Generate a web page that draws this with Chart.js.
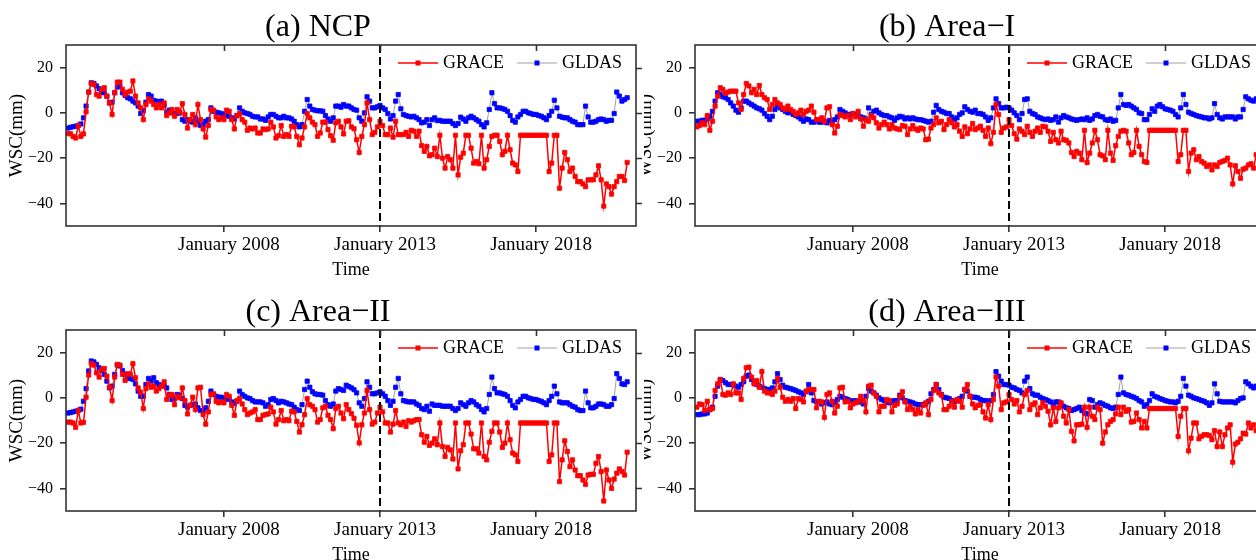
<!DOCTYPE html>
<html>
<head>
<meta charset="utf-8">
<script src="https://cdn.jsdelivr.net/npm/chart.js@4.4.1/dist/chart.umd.min.js"></script>
<style>
  html, body { margin: 0; padding: 0; background: #fff; }
  body { width: 1256px; height: 560px; overflow: hidden; position: relative; }
  .panel { position: absolute; background: #fff; }
  .panel canvas { display: block; }
  .front { z-index: 2; }
  .back { z-index: 1; }
</style>
</head>
<body>
<div class="panel front" style="left:0;top:0"><canvas id="cA" width="644" height="280"></canvas></div>
<div class="panel back" style="left:629px;top:0"><canvas id="cB" width="644" height="280"></canvas></div>
<div class="panel front" style="left:0;top:285px"><canvas id="cC" width="644" height="280"></canvas></div>
<div class="panel back" style="left:629px;top:285px"><canvas id="cD" width="644" height="280"></canvas></div>
<script>
// monthly series, Jan 2003 .. Dec 2020
const startYear = 2003;
const splitYear = 2013;
const xTickYears = [2008, 2013, 2018];
const yTickValues = [-40, -20, 0, 20];
const panelTitles = ['(a) NCP', '(b) Area\u2212I', '(c) Area\u2212II', '(d) Area\u2212III'];

const graceNCP = [-9.2,-9.2,-10.4,-11.1,-5.6,-10.4,-9.3,0.5,9.2,13.0,
12.6,8.1,7.4,10.4,11.1,7.4,4.4,-0.7,8.9,13.6,
13.6,10.4,8.1,9.2,9.6,14.1,7.4,4.4,2.2,-3.0,
3.7,6.2,5.2,3.7,2.2,3.7,2.2,4.4,-1.2,0,
1.5,-1.5,1.5,0.3,4.1,-0.7,-6.7,-3.0,-0.7,-5.2,
3.7,-3.0,-7.1,-10.7,-5.6,1.5,1.2,-1.8,-3.0,-2.2,
-3.0,1.2,0.7,-3.0,-7.1,-1.2,-0.3,-3.0,-4.1,-7.7,
-6.7,-7.1,-6.7,-8.9,-8.9,-7.1,-7.4,-7.1,-4.1,-6.2,
-11.1,-10.1,-5.6,-10.4,-9.6,-10.4,-5.9,-6.2,-10.4,-14.1,
-11.1,-6.2,-0.3,-2.2,-4.1,-5.2,-10.4,-8.9,-4.1,-4.1,
-7.4,-10.1,-12.1,-4.4,-3.7,-6.2,-9.3,-3.7,-3.5,-6.2,
-7.0,-11.9,-17.5,-10.4,-5.2,4.4,-3.0,-9.6,-8.6,-6.2,
-3.7,-5.6,-9.6,-9.6,-6.7,-10.7,-3.7,-9.6,-9.6,-9.6,
-8.6,-10.4,-7.7,-8.1,-10.4,-8.1,-14.5,-17.0,-14.8,-19.0,
-18.5,-15.6,-19.3,-9.9,-20.0,-24.4,-19.3,-20.7,-24.4,-9.9,
-27.4,-19.6,-17.8,-9.9,-9.9,-15.6,-22.2,-21.5,-22.5,-9.9,
-24.4,-20.7,-14.8,-10.4,-9.9,-9.9,-12.6,-18.5,-17.0,-9.9,
-16.3,-22.2,-23.0,-25.9,-9.9,-9.9,-9.9,-9.9,-9.9,-9.9,
-9.9,-9.9,-9.9,-9.9,-9.9,-25.9,-22.2,-9.9,-9.9,-33.3,
-24.4,-17.5,-20.7,-25.9,-24.4,-28.1,-30.4,-30.4,-31.4,-32.6,
-29.6,-29.6,-29.6,-27.4,-23.4,-29.6,-41.2,-31.4,-32.6,-35.9,
-32.6,-30.4,-28.1,-28.1,-29.9,-21.9];

const gldasNCP = [-6.7,-6.4,-6.1,-5.9,-5.5,-4.9,-2.2,3.0,9.2,13.3,
13.0,11.9,10.7,9.2,8.9,7.4,4.4,4.7,8.9,11.4,
11.9,8.9,7.7,6.7,6.2,5.2,4.4,3.0,-0.3,1.0,
4.7,8.1,7.4,5.5,5.2,4.7,5.2,3.3,0.3,1.2,
0,-0.3,-0.3,0,-3.0,-3.7,-3.0,-3.7,-4.1,-2.2,
-3.7,-5.6,-5.2,-3.7,-3.0,2.2,0.7,0.3,0,-0.3,
-0.7,-1.2,-1.5,-2.2,-2.7,-1.2,2.2,0.7,0,-0.3,
-0.7,-1.5,-1.8,-1.8,-2.7,-2.7,-3.3,-1.8,-0.7,-0.7,
-1.5,-2.2,-2.2,-1.5,-2.2,-2.2,-2.7,-3.7,-5.2,-6.2,
-5.2,0.7,5.9,3.0,1.5,1.2,0.9,0.9,0.7,-1.2,
-2.7,-3.7,-2.2,3.0,3.0,2.5,3.7,3.0,3.0,2.2,
1.5,1.2,-2.2,-3.7,0,7.1,5.2,2.2,2.2,2.7,
3.3,2.2,1.5,-0.3,-2.7,-1.2,5.2,8.1,1.8,-0.7,
-1.2,-1.5,-1.8,-1.5,-2.2,-3.0,-4.4,-4.1,-3.0,-5.6,
-3.0,-2.2,-3.4,-3.3,-3.7,-3.7,-3.7,-3.7,-4.7,-5.6,
-4.7,-1.9,-2.7,-3.7,-2.2,-1.5,-2.2,-3.0,-3.7,-5.2,
-6.2,-4.4,1.5,8.9,4.1,2.2,2.2,1.9,1.5,0.7,
-1.2,-3.3,-4.1,-1.8,-0.7,0.7,0.7,0,-0.3,-0.7,
-0.7,-1.2,-1.5,-2.2,-3.0,-1.2,0.7,5.6,2.2,-1.5,
-1.9,-2.2,-2.2,-3.0,-3.7,-4.1,-5.2,-5.2,-5.2,3.0,
-1.8,-4.1,-4.1,-3.7,-3.0,-2.7,-3.0,-3.7,-3.3,-3.3,
-0.3,9.2,7.4,5.2,5.9,6.7];

const graceArea1 = [-6.2,-5.6,-4.4,-5.2,-1.2,-7.7,-3.7,3.0,7.4,11.1,
10.4,8.6,9.2,9.6,9.6,9.6,4.4,1.5,8.1,13.0,
11.9,8.9,10.4,8.1,12.1,8.1,6.7,5.9,1.5,3.7,
5.9,4.4,3.7,2.2,1.5,3.0,1.5,0.7,-0.7,0,
1.2,-0.7,0.7,1.2,3.0,0.3,-3.0,-3.0,-2.2,-3.7,
2.2,2.7,-5.2,-8.9,-5.9,-0.7,-1.2,-1.8,-1.2,-3.0,
-0.3,-1.8,0.7,-2.7,-5.9,-3.0,-3.7,-1.2,-2.2,-4.4,
-6.7,-5.2,-4.1,-5.2,-7.1,-5.2,-6.7,-7.1,-7.4,-5.6,
-5.9,-9.6,-7.1,-5.6,-7.1,-7.7,-6.7,-7.1,-11.9,-11.6,
-6.7,-5.2,-2.2,-4.4,-3.7,-7.4,-5.2,-3.0,-4.4,-6.2,
-5.2,-8.1,-10.4,-6.2,-9.2,-7.1,-4.7,-7.4,-6.7,-5.9,
-7.7,-10.4,-6.7,-13.6,-8.6,3.7,-0.7,-8.6,-6.7,-6.2,
-3.0,-5.6,-9.2,-11.6,-7.1,-8.1,-9.6,-5.9,-8.6,-10.4,
-8.1,-6.7,-8.6,-5.9,-6.2,-8.1,-12.6,-8.6,-11.9,-13.3,
-8.1,-11.9,-12.1,-13.3,-17.5,-19.3,-17.0,-17.8,-20.7,-7.7,
-21.9,-17.8,-13.3,-7.7,-11.9,-18.5,-19.0,-20.7,-7.7,-17.8,
-21.0,-14.5,-10.4,-8.1,-7.7,-8.1,-13.3,-18.5,-17.5,-7.7,
-14.8,-18.5,-21.5,-21.9,-7.7,-7.7,-7.7,-7.7,-7.7,-7.7,
-7.7,-7.7,-7.7,-7.7,-7.7,-21.5,-18.5,-7.7,-7.7,-25.9,
-17.8,-16.3,-20.7,-19.3,-21.5,-22.2,-23.7,-23.0,-25.2,-23.0,
-23.7,-21.9,-21.5,-21.0,-20.0,-23.0,-31.4,-23.4,-25.9,-28.9,
-24.9,-24.4,-23.0,-22.5,-24.4,-18.5];

const gldasArea1 = [-3.7,-3.7,-3.3,-3.3,-2.7,-1.5,0.7,5.2,8.9,8.1,
7.1,6.7,5.9,4.4,3.0,1.2,0.3,2.2,5.2,5.2,
4.4,3.7,3.0,2.2,1.8,1.2,-0.3,-1.5,-3.0,-1.5,
1.5,3.3,2.2,1.5,0.7,0,0.3,-0.7,-1.2,-1.8,
-2.7,-3.7,-2.7,-3.0,-4.1,-4.1,-3.4,-4.1,-4.1,-3.7,
-4.4,-3.3,-4.1,-3.0,-1.8,1.5,0.7,0,-0.7,-0.7,
-0.3,-0.7,-1.2,-1.8,-2.2,-2.7,2.2,-0.7,0.7,1.2,
0,-0.7,-1.2,-1.2,-1.8,-2.2,-3.3,-2.2,-1.5,-1.8,
-2.7,-2.2,-2.7,-2.2,-2.7,-3.0,-3.0,-3.3,-3.7,-4.1,
-3.7,0.3,3.3,1.5,0.7,0.3,-0.3,-0.3,-1.8,-3.0,
-2.2,-0.7,0,2.7,1.5,0.7,0.3,1.2,-0.3,-0.3,
-0.7,-1.8,-3.3,-2.2,2.2,6.2,4.1,2.2,2.2,2.5,
2.2,1.2,0,-1.2,-3.0,-0.3,5.9,6.2,0.7,-0.3,
-0.7,-1.8,-2.2,-2.7,-3.0,-2.7,-3.3,-3.0,-1.8,-4.1,
-2.2,-1.2,-1.8,-2.2,-2.7,-3.0,-3.3,-3.0,-2.7,-3.0,
-2.2,-3.3,-2.7,-1.2,-0.7,-1.5,-1.8,-3.0,-3.3,-2.7,
-3.7,-3.3,2.2,8.1,3.7,3.3,3.7,3.0,2.2,1.5,
0,-0.3,-3.0,-3.0,-0.7,1.8,0.7,3.0,3.7,2.7,
1.8,1.5,1.2,0.7,-0.7,-1.8,2.2,8.1,3.7,0.3,
-0.3,-0.7,-1.2,-1.5,-1.8,-2.2,-2.2,-2.7,-2.2,4.1,
-0.7,-2.2,-2.7,-1.8,-1.8,-1.8,-1.8,-2.7,-1.8,-1.8,
1.5,7.1,6.2,5.6,5.2,6.2];

const graceArea2 = [-10.7,-10.7,-11.1,-13.0,-5.6,-11.1,-10.8,0.3,10.1,15.1,
14.5,11.1,9.2,12.6,13.0,9.6,4.7,-1.2,9.2,14.8,
14.5,10.4,7.7,10.7,10.4,15.1,8.9,4.4,2.5,-4.7,
4.1,6.2,4.7,5.2,3.0,4.1,5.2,7.1,-0.7,1.2,
1.5,-3.0,0.7,0,4.4,-1.2,-7.1,-3.3,0.3,-5.2,
4.4,4.7,-7.4,-11.6,-6.2,1.5,1.8,-1.5,-2.2,-1.8,
-2.2,1.5,0.7,-3.3,-7.7,-1.2,-0.3,-2.7,-5.2,-7.4,
-6.7,-6.2,-5.2,-9.6,-9.6,-7.7,-7.4,-7.1,-4.1,-6.2,
-11.6,-9.6,-5.6,-10.1,-9.6,-10.1,-5.9,-6.2,-10.4,-15.1,
-11.9,-7.4,-0.3,-3.0,-3.7,-5.2,-10.7,-9.6,-4.4,-3.7,
-7.7,-9.6,-13.6,-4.7,-3.7,-6.7,-9.2,-3.0,-5.2,-7.0,
-9.0,-12.1,-19.9,-11.9,-6.7,3.3,-5.2,-11.6,-10.7,-6.7,
-4.1,-6.2,-11.1,-11.1,-15.1,-11.6,-5.6,-11.1,-11.9,-10.7,
-12.6,-10.1,-10.7,-10.1,-9.6,-9.6,-16.3,-19.6,-17.0,-21.0,
-20.0,-18.1,-20.7,-11.1,-21.5,-25.9,-21.9,-23.0,-27.0,-11.1,
-31.4,-23.4,-20.7,-11.1,-11.1,-16.0,-22.5,-22.5,-24.4,-11.1,
-25.9,-27.4,-19.6,-14.8,-11.1,-11.1,-15.1,-21.9,-20.0,-11.1,
-18.5,-24.4,-25.2,-28.1,-11.1,-11.1,-11.1,-11.1,-11.1,-11.1,
-11.1,-11.1,-11.1,-11.1,-11.1,-28.1,-25.2,-11.1,-11.1,-37.0,
-27.4,-19.0,-23.7,-30.4,-27.4,-31.9,-34.4,-34.4,-36.3,-38.2,
-34.1,-33.8,-33.8,-28.9,-25.9,-32.6,-45.6,-31.9,-36.3,-40.0,
-35.9,-33.3,-31.4,-32.6,-34.1,-24.0];

const gldasArea2 = [-6.7,-6.5,-6.2,-5.9,-5.5,-5.0,-1.5,4.1,11.9,16.3,
15.9,14.8,13.3,12.1,10.4,7.4,4.4,5.2,10.4,14.5,
14.1,12.1,10.4,8.6,8.6,8.1,6.2,3.0,0.7,0.7,
5.9,8.6,7.4,8.9,6.7,5.9,5.5,5.2,4.4,1.5,
-0.7,-0.3,1.5,1.2,-0.3,-3.3,-4.1,-3.3,-3.0,-2.7,
-4.4,-5.6,-5.9,-4.4,-1.5,3.0,1.5,0.7,0.3,0.3,
-0.3,-0.7,-0.3,-1.8,-2.4,-1.5,3.0,1.5,0.7,0,
-0.3,-1.2,-1.8,-1.8,-1.8,-2.2,-3.7,-3.0,-0.7,-0.3,
-1.2,-2.2,-1.5,-1.8,-2.2,-2.7,-3.0,-4.1,-5.2,-5.6,
-3.0,3.7,7.4,4.7,2.7,1.8,1.5,1.5,1.2,-1.2,
-3.0,-3.7,-2.7,3.0,4.1,3.7,3.3,5.6,5.0,4.4,
3.6,2.2,-2.2,-3.7,-0.3,7.1,4.7,1.8,1.8,2.2,
2.7,1.8,0.7,-1.2,-3.3,-1.5,4.7,8.6,1.8,-1.2,
-1.5,-1.8,-1.8,-1.8,-2.7,-3.3,-4.7,-5.2,-3.7,-5.9,
-2.7,-3.3,-3.3,-3.3,-3.7,-3.7,-3.7,-3.7,-4.7,-5.6,
-4.7,-2.2,-3.0,-3.7,-2.2,-1.2,-1.8,-3.0,-3.7,-5.2,
-6.2,-4.7,1.5,9.2,4.1,2.2,2.2,1.8,1.5,0.7,
-1.2,-3.3,-4.4,-1.8,-0.7,0.7,0.7,0,-0.3,-0.7,
-0.7,-1.2,-1.5,-2.2,-3.0,-1.2,0.7,5.2,1.8,-1.8,
-2.2,-2.2,-2.2,-3.0,-3.7,-4.1,-5.2,-5.6,-5.6,3.0,
-2.2,-4.4,-4.4,-3.7,-2.7,-2.7,-3.0,-3.7,-3.7,-3.0,
-0.3,10.7,8.6,6.2,5.9,7.1];

const graceArea3 = [-4.1,-2.7,-3.0,-5.6,-1.5,-5.2,-4.7,3.3,6.2,8.1,
1.5,1.2,2.2,1.5,6.2,2.2,2.2,-0.7,8.6,13.3,
13.6,9.2,6.2,7.7,4.7,11.6,3.0,2.2,2.2,1.5,
3.0,8.6,4.7,0.3,-1.5,-0.7,-1.5,-0.3,-4.7,-0.3,
-0.7,-1.8,3.0,3.7,3.7,3.7,-4.4,-1.5,-1.8,-8.6,
1.5,2.2,-1.5,-6.7,-3.7,4.4,4.7,-1.8,-1.5,-4.4,
-2.7,-2.2,-1.5,0.7,-1.2,-6.2,5.2,5.6,2.2,0.7,
-6.2,-3.7,-3.7,-0.7,-1.2,-6.2,-3.3,-2.7,0.7,2.7,
-1.8,-5.2,-3.7,-5.2,-7.1,-5.2,-6.7,-3.3,-2.2,-7.4,
-0.7,3.3,5.9,2.2,1.2,-5.2,-5.2,-3.7,-1.5,-4.1,
-0.7,-1.5,-4.1,3.7,5.9,0.7,-2.7,-4.4,-3.3,-3.0,
-6.2,-8.9,-3.0,-9.6,-0.7,9.2,5.2,-5.2,-2.2,-1.8,
1.5,-0.7,-2.7,-1.2,-6.2,-3.7,1.5,3.3,-5.2,-3.0,
-2.2,-7.4,-4.4,-2.2,-3.7,-5.9,-11.9,-4.4,-10.4,-4.4,
-2.2,-8.1,-11.1,-5.2,-14.8,-19.0,-11.9,-11.9,-11.6,-4.1,
-13.0,-4.1,-8.1,-9.6,-4.1,-5.2,-20.0,-15.1,-11.9,-10.4,
-9.6,-7.1,-4.1,-7.4,-4.1,-5.9,-5.2,-10.7,-10.4,-6.7,
-9.6,-13.3,-10.4,-13.3,-4.7,-4.7,-4.7,-4.7,-4.7,-4.7,
-4.7,-4.7,-4.7,-4.7,-4.7,-17.0,-8.1,-4.7,-4.7,-23.4,
-17.8,-11.1,-11.1,-18.1,-17.0,-16.3,-16.3,-16.6,-18.5,-14.5,
-21.5,-15.1,-21.5,-16.3,-13.3,-11.9,-28.4,-20.4,-19.6,-18.1,
-15.6,-16.0,-11.1,-13.3,-11.9,-14.5];

const gldasArea3 = [-7.4,-7.4,-7.1,-7.1,-6.7,-5.2,-4.1,0.7,5.2,8.1,
7.7,6.7,5.9,5.9,5.9,5.2,4.7,5.9,7.1,9.6,
10.1,8.1,6.7,5.9,5.2,4.7,4.1,3.7,3.7,4.4,
7.1,10.7,8.1,5.6,4.7,4.4,4.1,3.7,3.3,2.7,
2.2,1.5,2.7,5.9,2.2,-1.2,-1.8,-1.8,-2.7,-2.2,
-1.8,-2.7,-3.0,-1.8,-0.7,0.7,0.3,-0.3,-0.7,-1.2,
-1.5,-1.2,-1.8,-1.8,-2.7,0.7,4.1,3.0,2.2,1.2,
0,-0.7,-1.2,-1.8,-2.2,-1.5,-1.2,-1.2,1.2,0,
-1.2,-1.5,-1.8,-2.2,-2.7,-3.0,-3.0,-3.0,-2.7,-1.5,
1.8,3.7,5.9,3.7,1.5,0.3,0,-0.3,-1.2,-1.8,
-1.2,-0.3,0.7,3.7,3.0,0.7,0.3,0.3,0,-0.7,
-1.2,-1.2,-1.5,-1.2,1.5,11.6,9.6,7.4,5.9,5.9,
5.6,4.7,4.4,3.7,3.3,2.2,7.4,9.2,4.1,1.8,
1.2,1.2,0.3,-0.3,-0.7,-1.2,-1.8,-3.0,-1.8,-1.8,
-3.0,-3.7,-4.4,-4.7,-5.6,-5.2,-4.7,-4.1,-5.6,-6.7,
-7.1,-0.7,-1.2,-4.1,-3.0,-2.2,-2.7,-3.3,-3.7,-4.4,
-4.7,-4.1,1.5,9.2,2.2,1.5,1.2,0.7,0.3,-0.3,
-1.2,-1.8,-3.7,-3.0,-1.2,1.8,0.7,0.3,-0.3,-0.7,
-1.2,-1.5,-1.8,-1.8,-2.2,-1.5,0.7,8.6,5.2,1.2,
0.7,0,-0.3,-0.7,-1.2,-1.5,-2.2,-3.3,-2.2,6.2,
1.8,-1.5,-1.8,-1.8,-1.8,-1.8,-1.8,-2.2,-1.2,-0.3,
0,7.1,6.2,5.2,4.4,5.2];

const SERIF = '"Liberation Serif", "Times New Roman", serif';
Chart.defaults.font.family = SERIF;
Chart.defaults.color = '#000';

const toPoints = vals => vals.map((v, i) => ({ x: startYear + i / 12, y: v }));
const fmtMinus = v => (v < 0 ? '\u2212' + Math.abs(v) : String(v));

// frame, mirrored ticks, dashed line at Jan 2013
const framePlugin = {
  id: 'frame',
  afterDatasetsDraw(chart) {
    const { ctx, chartArea: a, scales: { x, y } } = chart;
    ctx.save();
    const xs = x.getPixelForValue(splitYear);
    ctx.strokeStyle = '#000';
    ctx.lineWidth = 2;
    ctx.setLineDash([8, 4]);
    ctx.beginPath(); ctx.moveTo(xs, a.top); ctx.lineTo(xs, a.bottom); ctx.stroke();
    ctx.setLineDash([]);
    ctx.strokeStyle = '#333';
    ctx.lineWidth = 1.6;
    ctx.strokeRect(a.left, a.top, a.right - a.left, a.bottom - a.top);
    ctx.beginPath();
    yTickValues.forEach(v => {
      const py = Math.round(y.getPixelForValue(v)) + 0.5;
      ctx.moveTo(a.right, py); ctx.lineTo(a.right + 6, py);
    });
    xTickYears.forEach(v => {
      const px = Math.round(x.getPixelForValue(v)) + 0.5;
      ctx.moveTo(px, a.top); ctx.lineTo(px, a.top + 6);
    });
    ctx.stroke();
    ctx.restore();
  }
};

// legend inside the top right corner
const legendPlugin = {
  id: 'insideLegend',
  afterDraw(chart) {
    const { ctx, chartArea: a } = chart;
    ctx.save();
    ctx.font = '18px ' + SERIF;
    ctx.textBaseline = 'middle';
    ctx.textAlign = 'left';
    const cy = a.top + 18, lineW = 40, gap = 5, itemGap = 13;
    const items = chart.data.datasets.map(ds => ({
      label: ds.label, line: ds.borderColor, lw: ds.borderWidth,
      pt: ds.pointBackgroundColor, w: ctx.measureText(ds.label).width
    }));
    const total = items.reduce((s, it) => s + lineW + gap + it.w, 0) + itemGap * (items.length - 1);
    let x = a.right - 14 - total;
    items.forEach(it => {
      ctx.strokeStyle = it.line;
      ctx.lineWidth = it.lw;
      ctx.beginPath(); ctx.moveTo(x, cy); ctx.lineTo(x + lineW, cy); ctx.stroke();
      ctx.fillStyle = it.pt;
      ctx.fillRect(x + lineW / 2 - 2.5, cy - 2.5, 5, 5);
      ctx.fillStyle = '#000';
      ctx.fillText(it.label, x + lineW + gap, cy);
      x += lineW + gap + it.w + itemGap;
    });
    ctx.restore();
  }
};

function makePanel(id, title, grace, gldas) {
  const axisGrid = { display: true, drawOnChartArea: false, drawTicks: true, tickLength: 6, color: '#333', lineWidth: 1.6 };
  return new Chart(document.getElementById(id), {
    type: 'line',
    data: {
      datasets: [
        {
          label: 'GRACE', data: toPoints(grace),
          borderColor: '#ff0000', borderWidth: 1.5,
          pointStyle: 'rect', pointRadius: 3, pointBorderWidth: 0.8,
          pointBackgroundColor: '#ff0000', pointBorderColor: '#ff0000'
        },
        {
          label: 'GLDAS', data: toPoints(gldas),
          borderColor: '#8c8c8c', borderWidth: 0.8,
          pointStyle: 'rect', pointRadius: 3, pointBorderWidth: 0.8,
          pointBackgroundColor: '#0000ff', pointBorderColor: '#0000ff'
        }
      ]
    },
    options: {
      responsive: false,
      animation: false,
      devicePixelRatio: 1,
      layout: { padding: { left: 0, right: 8, top: 0, bottom: 0 } },
      plugins: {
        legend: { display: false },
        tooltip: { enabled: false },
        title: {
          display: true, text: title, color: '#000',
          font: { size: 32, weight: 'normal', lineHeight: 1 },
          padding: { top: 12, bottom: 1 }
        }
      },
      scales: {
        x: {
          type: 'linear', min: 2002.94, max: 2021.2,
          afterBuildTicks: s => { s.ticks = xTickYears.map(v => ({ value: v })); },
          afterFit: s => { s.height = 54; },
          ticks: { autoSkip: false, maxRotation: 0, padding: 2, labelOffset: 5, font: { size: 19 }, callback: v => 'January ' + v },
          grid: axisGrid,
          border: { display: false },
          title: { display: true, text: 'Time', font: { size: 18, lineHeight: 1 }, padding: { top: 0, bottom: 1 } }
        },
        y: {
          min: -50, max: 30,
          afterBuildTicks: s => { s.ticks = yTickValues.map(v => ({ value: v })); },
          afterFit: s => { s.width = 66; },
          ticks: { padding: 7, font: { size: 16 }, callback: v => fmtMinus(v) },
          grid: axisGrid,
          border: { display: false },
          title: { display: true, text: 'WSC(mm)', font: { size: 19, lineHeight: 1 }, padding: { top: 8, bottom: 0 } }
        }
      }
    },
    plugins: [framePlugin, legendPlugin]
  });
}

makePanel('cA', panelTitles[0], graceNCP, gldasNCP);
makePanel('cB', panelTitles[1], graceArea1, gldasArea1);
makePanel('cC', panelTitles[2], graceArea2, gldasArea2);
makePanel('cD', panelTitles[3], graceArea3, gldasArea3);
</script>
</body>
</html>
